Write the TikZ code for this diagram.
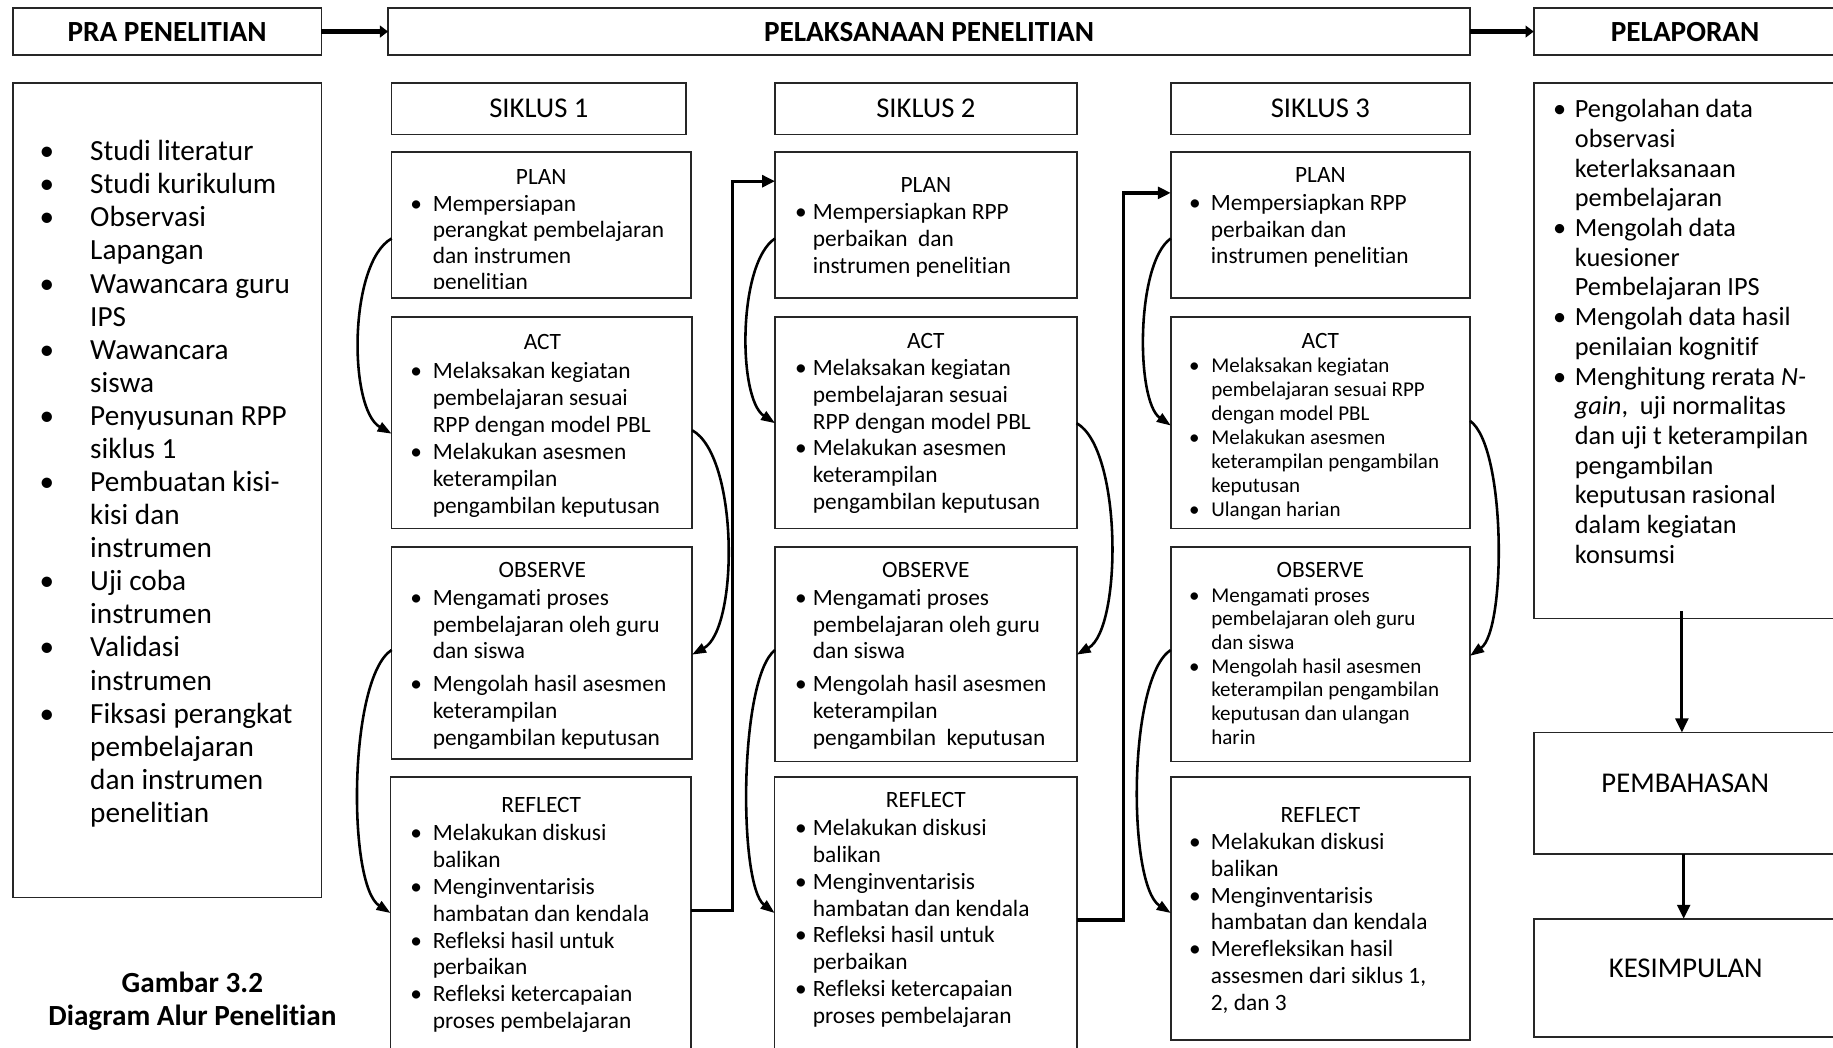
\documentclass[tikz,border=0pt]{standalone}
\usepackage{fontspec}
\setmainfont{Carlito}[Ligatures={NoCommon}]
\usetikzlibrary{arrows.meta,calc}
\newcommand{\mybul}[1]{\leavevmode\llap{\textbullet\hspace{#1}}}
\newcommand{\mytext}[4]{\parbox[t]{#1}{\fontsize{#2}{#3}\selectfont\raggedright #4}}
\begin{document}
\begin{tikzpicture}[x=1pt,y=-1pt,
  box/.style={draw=black!85, line width=1.5pt, inner sep=0pt, outer sep=0pt, anchor=north west},
  hdr/.style={inner sep=0pt, font=\fontsize{20}{24}\selectfont},
  ttl/.style={inner sep=0pt, font=\fontsize{24.5}{28}\selectfont},
  boldttl/.style={inner sep=0pt, font=\fontsize{25}{29}\selectfont\bfseries},
  txt/.style={inner sep=0pt, anchor=base west},
  curvearr/.style={line width=2.2pt, -{Triangle[length=12pt,width=8.5pt]}},
  elbowarr/.style={line width=2.8pt, -{Triangle[length=11pt,width=10pt]}},
  toparr/.style={line width=4pt, -{Triangle[length=7pt,width=10pt]}},
  downarr/.style={line width=2.5pt, -{Triangle[length=12pt,width=11pt]}}
]
\fill[white] (0,0) rectangle (1568,896);
\useasboundingbox (0,0) rectangle (1568,896);

% ---------- top row ----------
\node[box, minimum width=264pt, minimum height=40pt] (pra) at (11,7) {};
\node[box, minimum width=925.5pt, minimum height=40pt] (pel) at (332,7) {};
\node[box, minimum width=259.5pt, minimum height=40pt] (lap) at (1312,7) {};
\node[boldttl] (prat) at (pra) {PRA PENELITIAN};
\node[boldttl] (pelt) at (pel) {PELAKSANAAN PENELITIAN};
\node[boldttl] (lapt) at (1441.5,27) {PELAPORAN};
\draw[toparr] (pra.east) -- (pel.west);
\draw[toparr] (pel.east) -- (lap.west);

% ---------- left column ----------
\node[box, minimum width=264pt, minimum height=697pt] (left) at (11,70.7) {};
\node[txt] (leftt) at (77,137.5) {\mytext{200pt}{25}{28.3}{%
\mybul{30.8pt}Studi literatur\\
\mybul{30.8pt}Studi kurikulum\\
\mybul{30.8pt}Observasi\\
Lapangan\\
\mybul{30.8pt}Wawancara guru\\
IPS\\
\mybul{30.8pt}Wawancara\\
siswa\\
\mybul{30.8pt}Penyusunan RPP\\
siklus 1\\
\mybul{30.8pt}Pembuatan kisi-\\
kisi dan\\
instrumen\\
\mybul{30.8pt}Uji coba\\
instrumen\\
\mybul{30.8pt}Validasi\\
instrumen\\
\mybul{30.8pt}Fiksasi perangkat\\
pembelajaran\\
dan instrumen\\
penelitian}};

\node[inner sep=0pt, anchor=base] (cap) at (164.6,849) {\parbox[t]{300pt}{\centering\fontsize{25}{28.5}\selectfont\bfseries Gambar 3.2\\ Diagram Alur Penelitian}};

% ---------- siklus boxes ----------
\node[box, minimum width=252pt, minimum height=44pt] (sik1) at (335,71) {};
\node[box, minimum width=258pt, minimum height=44pt] (sik2) at (663,71) {};
\node[box, minimum width=256pt, minimum height=44pt] (sik3) at (1001.5,71) {};
\node[ttl] (sik1t) at (sik1) {SIKLUS 1};
\node[ttl] (sik2t) at (sik2) {SIKLUS 2};
\node[ttl] (sik3t) at (sik3) {SIKLUS 3};

\node[box, minimum width=256pt, minimum height=125pt] (plan1) at (335,130) {};
\node[box, minimum width=258pt, minimum height=125pt] (plan2) at (663,130) {};
\node[box, minimum width=256pt, minimum height=125pt] (plan3) at (1001.5,130) {};

\node[box, minimum width=257pt, minimum height=181pt] (act1) at (335,271) {};
\node[box, minimum width=258pt, minimum height=181pt] (act2) at (663,271) {};
\node[box, minimum width=256pt, minimum height=181pt] (act3) at (1001.5,271) {};

\node[box, minimum width=257pt, minimum height=181pt] (obs1) at (335,468) {};
\node[box, minimum width=258pt, minimum height=183.5pt] (obs2) at (663,468) {};
\node[box, minimum width=256pt, minimum height=183.5pt] (obs3) at (1001.5,468) {};

\node[box, minimum width=257.4pt, minimum height=240pt] (ref1) at (334,664.4) {};
\node[box, minimum width=258.4pt, minimum height=240pt] (ref2) at (662.6,664.4) {};
\node[box, minimum width=256pt, minimum height=225.2pt] (ref3) at (1001.5,664.4) {};

% ---------- siklus 1 text ----------
\node[hdr] (plan1h) at (463,151) {PLAN};
\begin{scope}
\clip (335,130) rectangle (591,247);
\node[txt] (plan1b) at (370,180.5) {\mytext{220pt}{20}{22.5}{%
\mybul{9.3pt}Mempersiapan\\ perangkat pembelajaran\\ dan instrumen\\ penelitian}};
\end{scope}
\node[hdr] (act1h) at (464,292.4) {ACT};
\node[txt] (act1b) at (370,324) {\mytext{220pt}{20}{23}{%
\mybul{9.3pt}Melaksakan kegiatan\\ pembelajaran sesuai\\ RPP dengan model PBL\\
\mybul{9.3pt}Melakukan asesmen\\ keterampilan\\ pengambilan keputusan}};
\node[hdr] (obs1h) at (464,488) {OBSERVE};
\node[txt] (obs1b) at (370,518) {\mytext{220pt}{20}{22.8}{%
\mybul{9.3pt}Mengamati proses\\ pembelajaran oleh guru\\ dan siswa\\[5.5pt]
\mybul{9.3pt}Mengolah hasil asesmen\\ keterampilan\\ pengambilan keputusan}};
\node[hdr] (ref1h) at (463,688.6) {REFLECT};
\node[txt] (ref1b) at (370,719) {\mytext{220pt}{20}{23}{%
\mybul{9.3pt}Melakukan diskusi\\ balikan\\
\mybul{9.3pt}Menginventarisis\\ hambatan dan kendala\\
\mybul{9.3pt}Refleksi hasil untuk\\ perbaikan\\
\mybul{9.3pt}Refleksi ketercapaian\\ proses pembelajaran}};

% ---------- siklus 2 text ----------
\node[hdr] (plan2h) at (792,158) {PLAN};
\node[txt] (plan2b) at (695.2,188) {\mytext{220pt}{20}{23}{%
\mybul{5.3pt}Mempersiapkan RPP\\ perbaikan\ \ dan\\ instrumen penelitian}};
\node[hdr] (act2h) at (792,292) {ACT};
\node[txt] (act2b) at (695.2,321) {\mytext{220pt}{20}{23}{%
\mybul{5.3pt}Melaksakan kegiatan\\ pembelajaran sesuai\\ RPP dengan model PBL\\
\mybul{5.3pt}Melakukan asesmen\\ keterampilan\\ pengambilan keputusan}};
\node[hdr] (obs2h) at (792,488) {OBSERVE};
\node[txt] (obs2b) at (695.2,518) {\mytext{220pt}{20}{22.8}{%
\mybul{5.3pt}Mengamati proses\\ pembelajaran oleh guru\\ dan siswa\\[5.5pt]
\mybul{5.3pt}Mengolah hasil asesmen\\ keterampilan\\ pengambilan\ \ keputusan}};
\node[hdr] (ref2h) at (792,684) {REFLECT};
\node[txt] (ref2b) at (695.2,714.6) {\mytext{220pt}{20}{23}{%
\mybul{5.3pt}Melakukan diskusi\\ balikan\\
\mybul{5.3pt}Menginventarisis\\ hambatan dan kendala\\
\mybul{5.3pt}Refleksi hasil untuk\\ perbaikan\\
\mybul{5.3pt}Refleksi ketercapaian\\ proses pembelajaran}};

% ---------- siklus 3 text ----------
\node[hdr] (plan3h) at (1129.5,150) {PLAN};
\node[txt] (plan3b) at (1035.6,180) {\mytext{220pt}{20}{22.8}{%
\mybul{8.6pt}Mempersiapkan RPP\\ perbaikan dan\\ instrumen penelitian}};
\node[hdr] (act3h) at (1129.5,292) {ACT};
\node[txt] (act3b) at (1036,318.4) {\mytext{220pt}{18}{20.6}{%
\mybul{10pt}Melaksakan kegiatan\\ pembelajaran sesuai RPP\\ dengan model PBL\\
\mybul{10pt}Melakukan asesmen\\ keterampilan pengambilan\\ keputusan\\
\mybul{10pt}Ulangan harian}};
\node[hdr] (obs3h) at (1129.5,488) {OBSERVE};
\node[txt] (obs3b) at (1036,515) {\mytext{220pt}{18}{20.3}{%
\mybul{10pt}Mengamati proses\\ pembelajaran oleh guru\\ dan siswa\\
\mybul{10pt}Mengolah hasil asesmen\\ keterampilan pengambilan\\ keputusan dan ulangan\\ harin}};
\node[hdr] (ref3h) at (1129.5,697) {REFLECT};
\node[txt] (ref3b) at (1035.6,726.8) {\mytext{220pt}{20}{22.9}{%
\mybul{8.6pt}Melakukan diskusi\\ balikan\\
\mybul{8.6pt}Menginventarisis\\ hambatan dan kendala\\
\mybul{8.6pt}Merefleksikan hasil\\ assesmen dari siklus 1,\\ 2, dan 3}};

% ---------- pelaporan column ----------
\node[box, minimum width=259.5pt, minimum height=458.3pt] (rep) at (1312,70.7) {};
\node[txt] (rept) at (1347,100.8) {\mytext{220pt}{22.5}{25.4}{%
\mybul{7.4pt}Pengolahan data\\ observasi\\ keterlaksanaan\\ pembelajaran\\
\mybul{7.4pt}Mengolah data\\ kuesioner\\ Pembelajaran IPS\\
\mybul{7.4pt}Mengolah data hasil\\ penilaian kognitif\\
\mybul{7.4pt}Menghitung rerata \textit{N-}\\ \textit{gain},\ \ uji normalitas\\ dan uji t keterampilan\\ pengambilan\\ keputusan rasional\\ dalam kegiatan\\ konsumsi}};
\node[box, minimum width=259.5pt, minimum height=104pt] (pemb) at (1312,626.5) {};
\node[box, minimum width=259.5pt, minimum height=101pt] (kes) at (1312,786) {};
\node[ttl] (pembt) at (1441.6,670) {PEMBAHASAN};
\node[ttl] (kest) at (1442,828.3) {KESIMPULAN};
\draw[downarr] ([xshift=-3pt,yshift=6pt]rep.south) -- ([xshift=-3pt]pemb.north);
\draw[downarr] ([xshift=-1.5pt]pemb.south) -- ([xshift=-1.5pt]kes.north);

% ---------- cycle curves ----------
\draw[curvearr] ([yshift=-74pt]plan1.north west) .. controls +(-37,21) and +(-37,-21) .. ([yshift=-100pt]act1.north west);
\draw[curvearr] ([yshift=-97pt]act1.north east) .. controls +(40,22) and +(40,-22) .. ([yshift=-92pt]obs1.north east);
\draw[curvearr] ([yshift=-88pt]obs1.north west) .. controls +(-37,24) and +(-37,-24) .. ([yshift=-116.6pt]ref1.north west);

\draw[curvearr] ([yshift=-74pt]plan2.north west) .. controls +(-32,21) and +(-32,-21) .. ([yshift=-91pt]act2.north west);
\draw[curvearr] ([yshift=-91pt]act2.north east) .. controls +(39,22) and +(39,-22) .. ([yshift=-92pt]obs2.north east);
\draw[curvearr] ([yshift=-88pt]obs2.north west) .. controls +(-31,24) and +(-31,-24) .. ([yshift=-116.6pt]ref2.north west);

\draw[curvearr] ([yshift=-74pt]plan3.north west) .. controls +(-30,21) and +(-30,-21) .. ([yshift=-93pt]act3.north west);
\draw[curvearr] ([yshift=-89pt]act3.north east) .. controls +(31,22) and +(31,-22) .. ([yshift=-93pt]obs3.north east);
\draw[curvearr] ([yshift=-88pt]obs3.north west) .. controls +(-37,24) and +(-37,-24) .. ([yshift=-116.6pt]ref3.north west);

% ---------- cycle to cycle ----------
\draw[elbowarr] ([yshift=-114.6pt]ref1.north east) -- ++(35,0) |- ([yshift=-25pt]plan2.north west);
\draw[elbowarr] ([yshift=-122.6pt]ref2.north east) -- ++(40,0) |- ([yshift=-35pt]plan3.north west);
\end{tikzpicture}
\end{document}
